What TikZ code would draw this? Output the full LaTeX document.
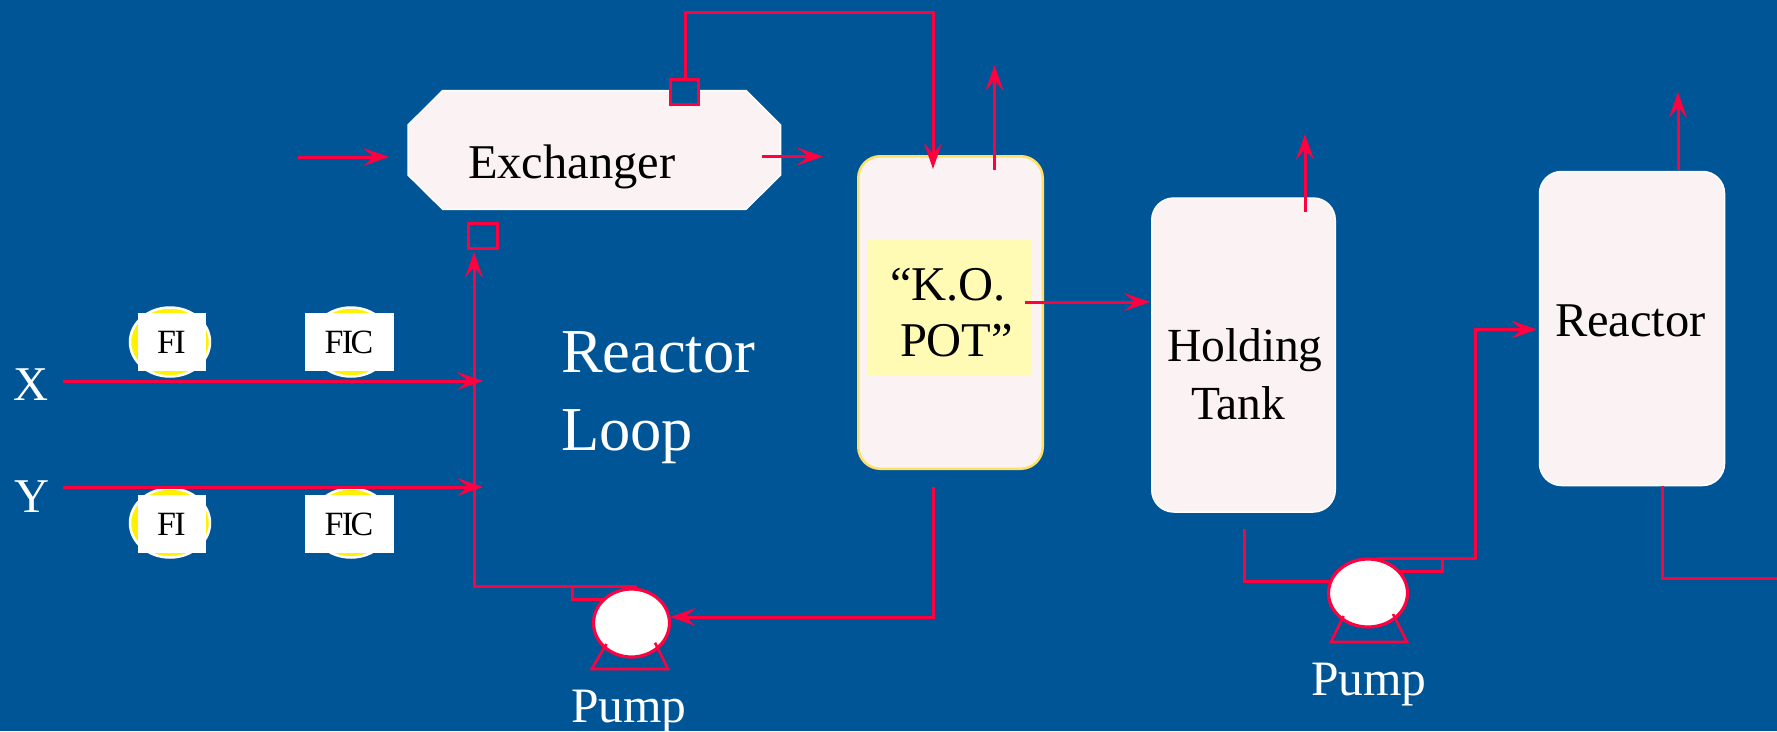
\documentclass[tikz,border=0pt]{standalone}
\usepackage{fontspec}
\setmainfont{Liberation Serif}
\usetikzlibrary{arrows.meta,shapes.geometric}
\definecolor{bgblue}{HTML}{005596}
\definecolor{pipe}{HTML}{FF0040}
\definecolor{vessel}{HTML}{FBF3F3}
\definecolor{kopale}{HTML}{FFFAB4}
\definecolor{kobord}{HTML}{FFE066}
\tikzset{
  pipeline/.style={draw=pipe,line width=3pt,line join=miter},
  flow/.style={pipeline,-{Stealth[length=26pt,width=18pt,inset=11pt]}},
  vesselbox/.style={rectangle,rounded corners=22pt,fill=vessel,draw=white,line width=1.5pt,inner sep=0pt,outer sep=0pt,minimum width=#1},
  nozzle/.style={rectangle,draw=pipe,fill=bgblue,line width=3pt,inner sep=0pt,outer sep=0pt,minimum height=25pt,minimum width=#1},
  pumpbody/.style={ellipse,fill=white,draw=pipe,line width=3.2pt,inner sep=0pt,outer sep=0pt},
  instcircle/.style={ellipse,fill=yellow,draw=white,line width=2.5pt,minimum width=80pt,minimum height=69pt,inner sep=0pt,outer sep=0pt},
  insttag/.style={rectangle,fill=white,text=black,inner sep=0pt,outer sep=0pt,minimum height=58pt,font=\fontsize{34}{34}\selectfont},
  lbl/.style={anchor=base west,inner sep=0pt,outer sep=0pt,font=\fontsize{48.5}{48.5}\selectfont},
  wlbl/.style={lbl,text=white},
  blbl/.style={lbl,text=black},
  big/.style={font=\fontsize{62.5}{62.5}\selectfont},
  pumplbl/.style={font=\fontsize{49.5}{49.5}\selectfont},
  tanklbl/.style={font=\fontsize{47.5}{47.5}\selectfont},
}
\newcommand{\FItxt}{F\kern-.05em I}
\newcommand{\FICtxt}{F\kern-.05em I\kern-.07em C}
\begin{document}
\begin{tikzpicture}[x=1pt,y=-1pt]
\useasboundingbox (0,0) rectangle (1777,731);
\clip (0,0) rectangle (1777,731);
\fill[bgblue] (0,0) rectangle (1777,731);

% vessels
\draw[fill=vessel,draw=white,line width=1.5pt,line join=miter] (442.7,90.5) -- (746,90.5) -- (780.6,125) -- (780.6,175) -- (746,209.3) -- (442.7,209.3) -- (408,175) -- (408,125) -- cycle;
\node[vesselbox=184.5pt,minimum height=312.5pt,draw=kobord,line width=2.5pt] (kopot) at (950.5,312.5) {};
\node[rectangle,fill=kopale,inner sep=0pt,outer sep=0pt,minimum width=164pt,minimum height=135pt] (kopatch) at (950,307.5) {};
\node[vesselbox=183.5pt,minimum height=314pt] (htank) at (1243.5,355) {};
\node[vesselbox=185pt,minimum height=314pt] (react) at (1632,328.5) {};

% nozzles
\node[nozzle=28pt] (noztop) at (684.5,91.5) {};
\node[nozzle=29pt] (nozbot) at (482.5,236) {};

% instruments
\node[instcircle] (fixc) at (170,342) {};
\node[insttag,minimum width=68pt] (fix) at (171.5,342) {\FItxt};
\node[instcircle] (ficxc) at (351,342) {};
\node[insttag,minimum width=89pt] (ficx) at (349,342) {\FICtxt};
\node[instcircle] (fiyc) at (170,523) {};
\node[insttag,minimum width=68pt] (fiy) at (171.5,524) {\FItxt};
\node[instcircle] (ficyc) at (351,523) {};
\node[insttag,minimum width=89pt] (ficy) at (349,524) {\FICtxt};

% free ends and junctions
\coordinate (xin) at (63,381);
\coordinate (yin) at (63,487);
\coordinate (xend) at (483,381);
\coordinate (yend) at (483,487);
\coordinate (loopup) at (474,252);
\coordinate (loopcorner) at (474,586.5);
\coordinate (p1out) at (637,586.5);
\coordinate (p1br) at (572,586.5);
\coordinate (p1brin) at (603,599.5);
\coordinate (koin) at (933,169);
\coordinate (koout) at (994.5,170);
\coordinate (koup) at (994.5,65);
\coordinate (exin) at (298,157);
\coordinate (exinend) at (389,157);
\coordinate (exout) at (762,156.5);
\coordinate (exoutend) at (823,156.5);
\coordinate (kobot) at (933,487);
\coordinate (p1in) at (670,617);
\coordinate (kosd) at (1025,302);
\coordinate (htin) at (1150,302);
\coordinate (htout) at (1305,212);
\coordinate (htup) at (1305,134);
\coordinate (htbot) at (1244,529);
\coordinate (p2in) at (1329,581);
\coordinate (p2out) at (1377,558);
\coordinate (p2br) at (1442,558);
\coordinate (p2brin) at (1393,571);
\coordinate (rein) at (1537,329.5);
\coordinate (reout) at (1678,170);
\coordinate (reup) at (1678,92);
\coordinate (rebot) at (1662,486);
\coordinate (reexit) at (1777,578);

% pipes
\draw[flow] (xin) -- (xend);
\draw[flow] (yin) -- (yend);
\draw[flow] (p1out) -- (loopcorner) -- (loopup);
\draw[pipeline] (p1br) |- (p1brin);
\draw[flow] (685,79) -- (685,12.7) -- (933,12.7) -- (koin);
\draw[flow] (koout) -- (koup);
\draw[flow] (exin) -- (exinend);
\draw[flow] (exout) -- (exoutend);
\draw[flow] (kobot) |- (p1in);
\draw[flow] (kosd) -- (htin);
\draw[flow] (htout) -- (htup);
\draw[pipeline] (htbot) |- (p2in);
\draw[flow] (p2out) -- (1475,558) -- (1475,329.5) -- (rein);
\draw[pipeline] (p2br) |- (p2brin);
\draw[flow] (reout) -- (reup);
\draw[pipeline] (rebot) |- (reexit);

% pumps
\node[pumpbody,minimum width=76pt,minimum height=68pt] (pumpa) at (631.5,623) {};
\draw[pipeline,line width=2.6pt] (606.5,644) -- (591.7,669) -- (668,669) -- (655,642.7);
\node[pumpbody,minimum width=79pt,minimum height=68pt] (pumpb) at (1368,593) {};
\draw[pipeline,line width=2.6pt] (1343.5,616) -- (1331,642) -- (1407,642) -- (1393,614);

% labels
\node[wlbl] (lx) at (13,400) {X};
\node[wlbl] (ly) at (14,512) {Y};
\node[blbl] (lex) at (468,178) {Exchanger};
\node[blbl] (lko1) at (890,300) {“K.O.};
\node[blbl] (lko2) at (900,356) {POT”};
\node[blbl,tanklbl] (lht1) at (1167,361) {Holding};
\node[blbl,tanklbl] (lht2) at (1191,419) {Tank};
\node[blbl] (lre) at (1555,336) {Reactor};
\node[wlbl,big] (lrl1) at (561,372) {Reactor};
\node[wlbl,big] (lrl2) at (561,450) {Loop};
\node[wlbl,pumplbl] (lp1) at (571,722.7) {Pump};
\node[wlbl,pumplbl] (lp2) at (1311,695) {Pump};
\end{tikzpicture}
\end{document}
